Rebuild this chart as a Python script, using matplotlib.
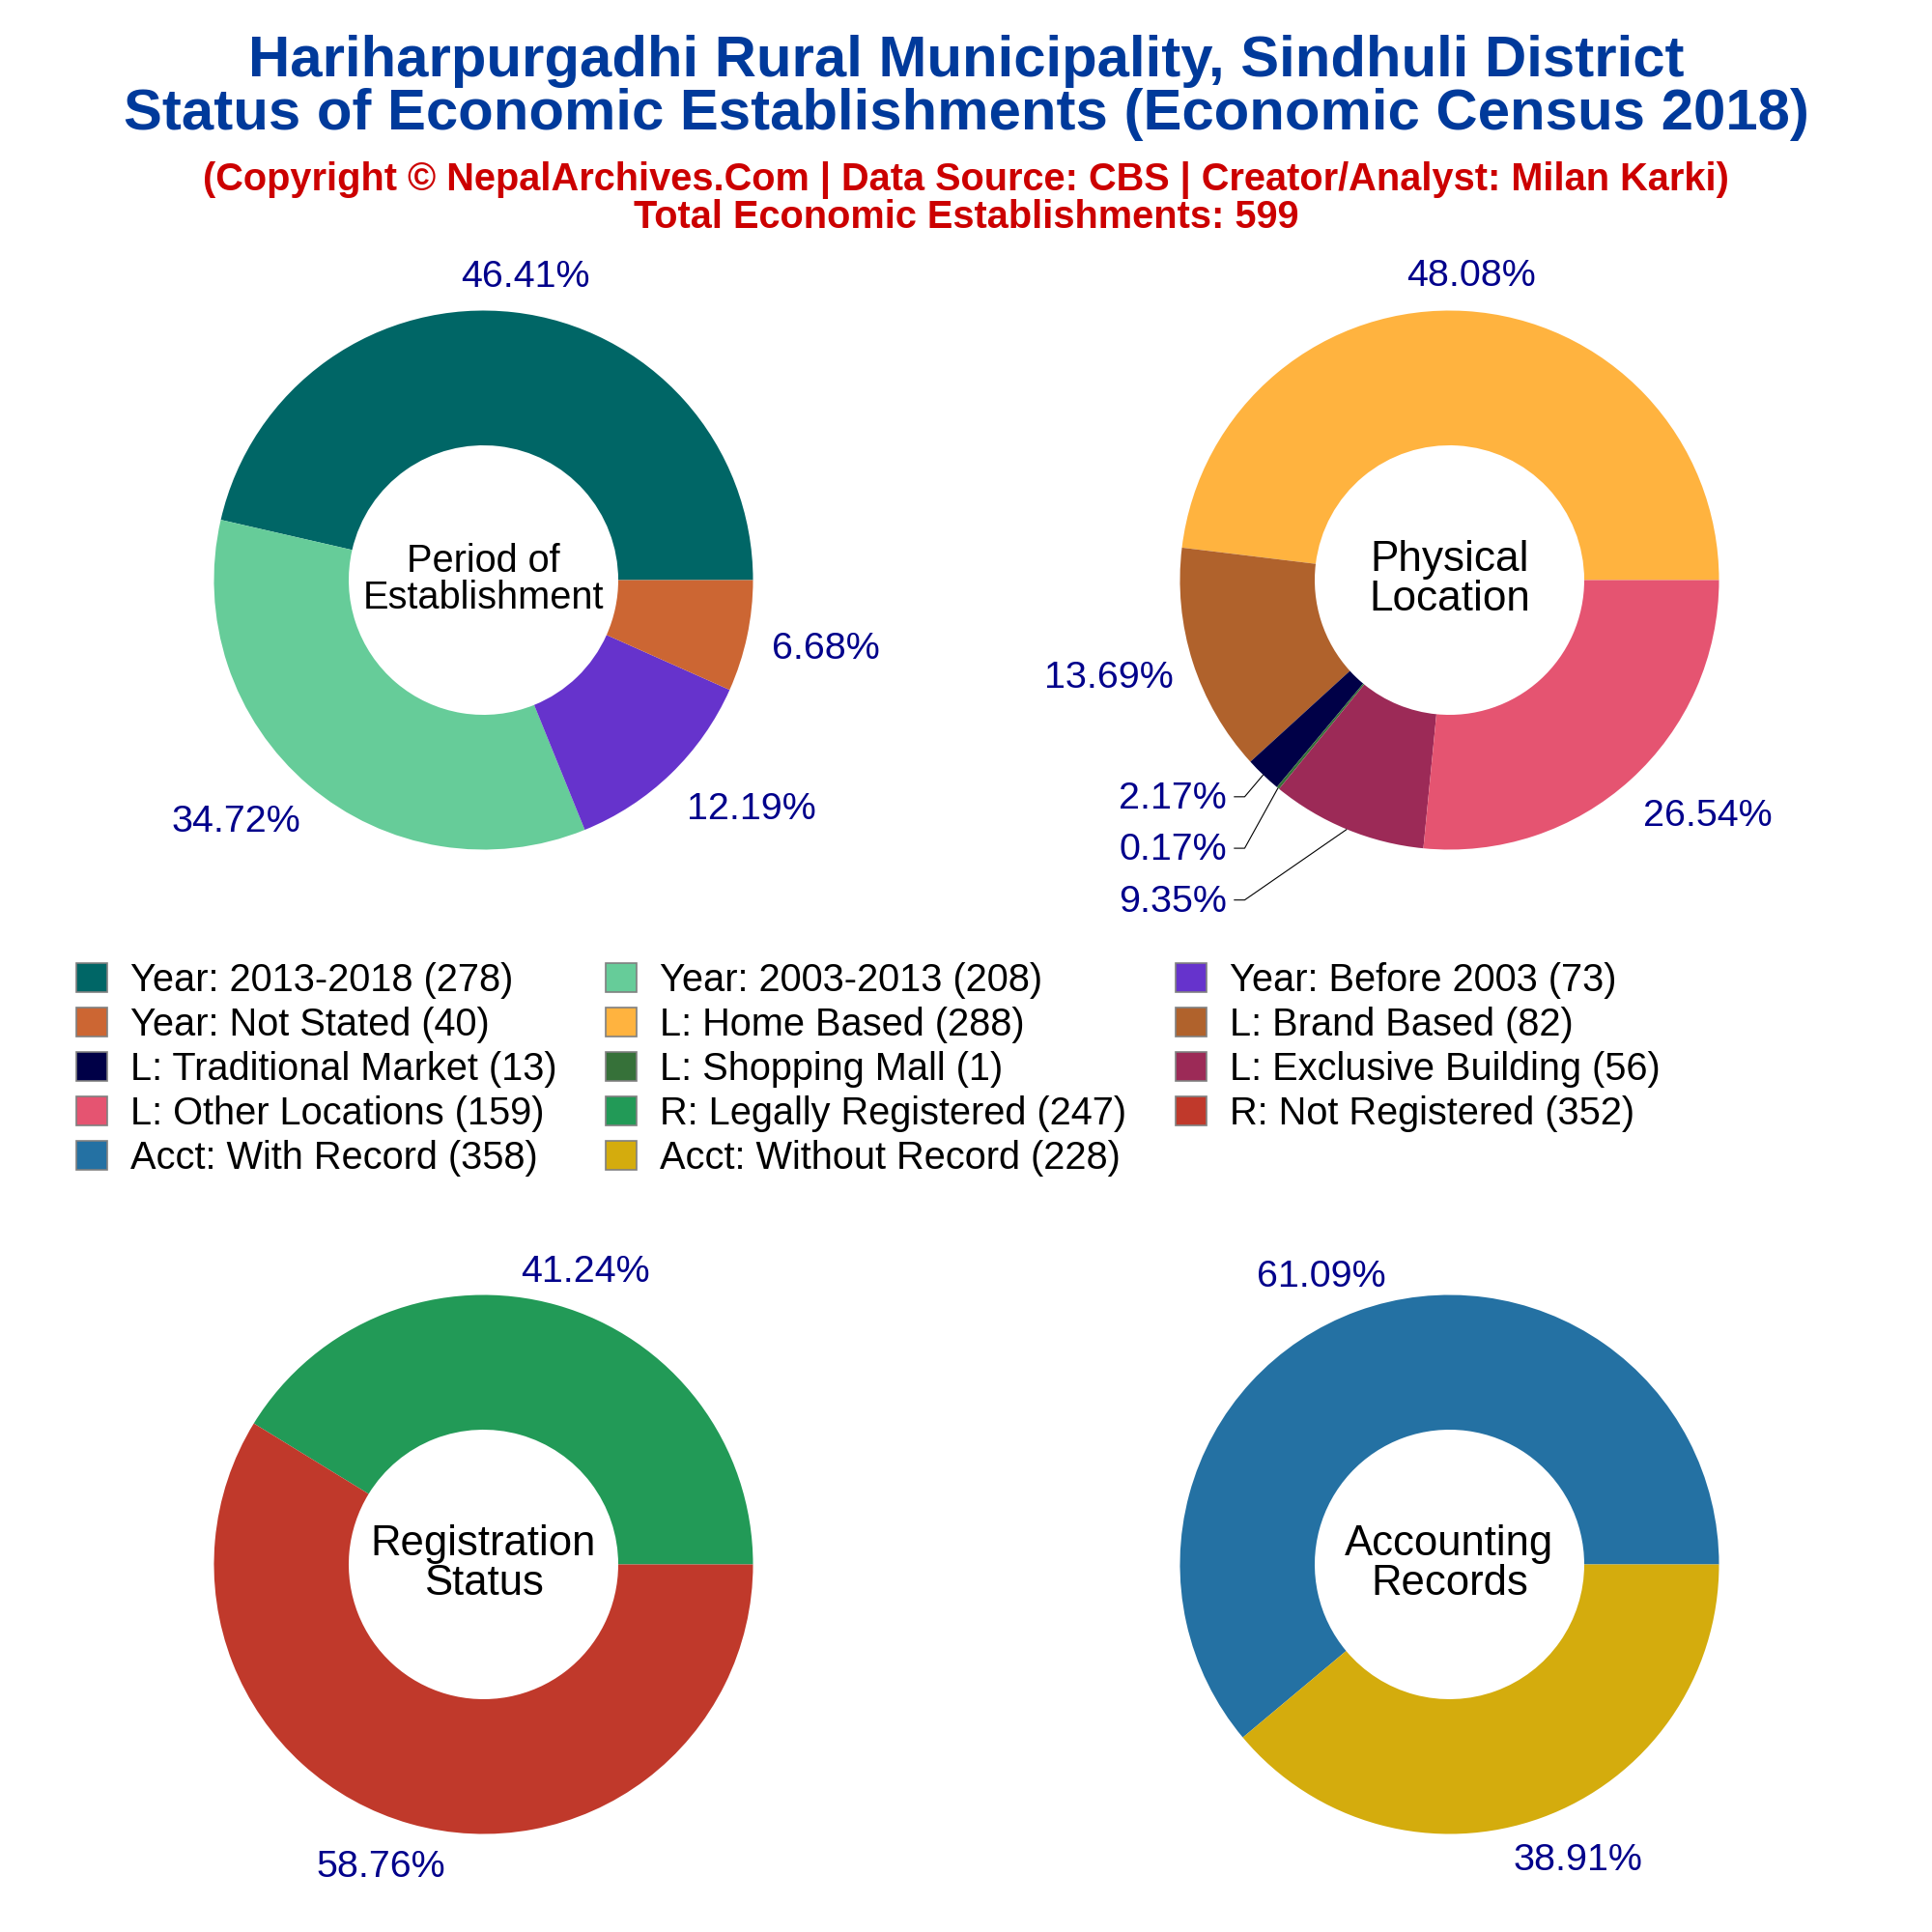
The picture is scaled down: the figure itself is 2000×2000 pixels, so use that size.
import matplotlib
matplotlib.use("Agg")
import matplotlib.pyplot as plt
from matplotlib.patches import Patch
import numpy as np

plt.rcParams["font.family"] = ["Liberation Sans", "DejaVu Sans"]

# data
year_labels = ["Year: 2013-2018", "Year: 2003-2013", "Year: Before 2003", "Year: Not Stated"]
year_values = [278, 208, 73, 40]
year_colors = ["#006666", "#66CC99", "#6633CC", "#CC6633"]

loc_labels = ["L: Home Based", "L: Brand Based", "L: Traditional Market", "L: Shopping Mall",
              "L: Exclusive Building", "L: Other Locations"]
loc_values = [288, 82, 13, 1, 56, 159]
loc_colors = ["#FFB33F", "#B0622C", "#000047", "#367139", "#9C2A57", "#E55471"]

reg_labels = ["R: Legally Registered", "R: Not Registered"]
reg_values = [247, 352]
reg_colors = ["#229A57", "#C0392B"]

acct_labels = ["Acct: With Record", "Acct: Without Record"]
acct_values = [358, 228]
acct_colors = ["#2471A3", "#D4AC0D"]

# label positions, in pie radii from the centre
year_pos = [(0.155, 1.132), (-0.918, -0.890), (0.995, -0.845), (1.269, -0.247)]
loc_pos = [(0.082, 1.137), (-1.265, -0.356), (-1.027, -0.804), (-1.027, -0.995),
           (-1.027, -1.187), (0.959, -0.868)]
reg_pos = [(0.379, 1.091), (-0.379, -1.114)]
acct_pos = [(-0.475, 1.073), (0.475, -1.091)]

PCT_COLOR = "#00008B"
R_PX = 279
LIM = 1.5


def donut(cx, cy, values, colors, pos, center_text, center_size):
    size = 2 * LIM * R_PX
    ax = fig.add_axes([(cx - size / 2) / 2000, 1 - (cy + size / 2) / 2000, size / 2000, size / 2000])
    ax.patch.set_alpha(0)
    ax.pie(values, colors=colors, startangle=0, counterclock=True, radius=1,
           wedgeprops=dict(width=0.5, linewidth=0))
    ax.set_xlim(-LIM, LIM)
    ax.set_ylim(-LIM, LIM)
    total = sum(values)
    for v, (x, y) in zip(values, pos):
        ax.text(x, y - 0.008, f"{100 * v / total:.2f}%", color=PCT_COLOR, fontsize=14.2, ha="center", va="center")
    ax.text(0, 0.003, center_text, fontsize=center_size, ha="center", va="center", linespacing=1.0)
    return ax


fig = plt.figure(figsize=(10, 10), dpi=200)

fig.text(0.5, 1 - 91 / 2000, "Hariharpurgadhi Rural Municipality, Sindhuli District\n"
         "Status of Economic Establishments (Economic Census 2018)",
         color="#003A9B", fontsize=21.55, fontweight="bold", ha="center", va="center", linespacing=1.02)
fig.text(0.5, 1 - 205 / 2000, "(Copyright © NepalArchives.Com | Data Source: CBS | Creator/Analyst: Milan Karki)\n"
         "Total Economic Establishments: 599",
         color="#CC0000", fontsize=14.3, fontweight="bold", ha="center", va="center", linespacing=1.0)

donut(500.5, 600.5, year_values, year_colors, year_pos, "Period of\nEstablishment", 14.3)
ax2 = donut(1500.5, 600.5, loc_values, loc_colors, loc_pos, "Physical\nLocation", 15.9)
donut(500.5, 1619.5, reg_values, reg_colors, reg_pos, "Registration\nStatus", 15.7)
donut(1500.5, 1619.5, acct_values, acct_colors, acct_pos, "Accounting\nRecords", 15.7)

# leader lines for the thin slices
cum = np.cumsum(loc_values)
loc_total = sum(loc_values)
for i in [2, 3, 4]:
    ang = np.deg2rad(360 * (cum[i] - loc_values[i] / 2) / loc_total)
    x_text, y_text = loc_pos[i]
    ax2.plot([-0.80, -0.76, np.cos(ang)], [y_text, y_text, np.sin(ang)],
             color="black", lw=0.4, solid_capstyle="butt")

# one legend per column, the columns are not evenly spaced in the picture
all_labels = year_labels + loc_labels + reg_labels + acct_labels
all_values = year_values + loc_values + reg_values + acct_values
all_colors = year_colors + loc_colors + reg_colors + acct_colors
columns = [[0, 3, 6, 9, 12], [1, 4, 7, 10, 13], [2, 5, 8, 11]]
column_x = [79, 627, 1217]
for idx, x in zip(columns, column_x):
    handles = [Patch(facecolor=all_colors[i], edgecolor="#808080", linewidth=0.6,
                     label=f"{all_labels[i]} ({all_values[i]})") for i in idx]
    fig.legend(handles=handles, ncol=1, frameon=False, fontsize=14.3,
               loc="upper left", bbox_to_anchor=(x / 2000, 1 - 996 / 2000),
               handlelength=0.8, handleheight=0.8, handletextpad=0.6,
               labelspacing=0.2, borderpad=0, borderaxespad=0)

fig.savefig("out.png", dpi=200)
